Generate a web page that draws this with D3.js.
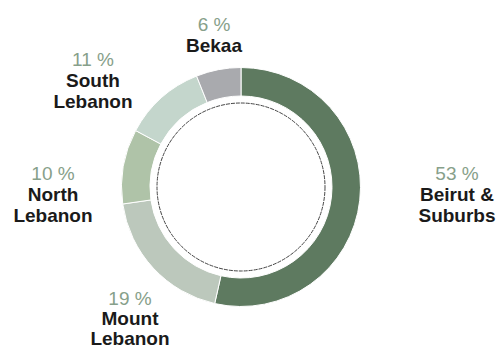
<!DOCTYPE html>
<html>
<head>
<meta charset="utf-8">
<script src="https://cdn.jsdelivr.net/npm/d3@7"></script>
<style>
  html, body { margin: 0; padding: 0; background: #fff; }
  svg { display: block; }
  .pct { font-family: "Liberation Sans", Arial, sans-serif; font-size: 19px; fill: #87a08a; }
  .name { font-family: "Liberation Sans", Arial, sans-serif; font-size: 19px; font-weight: bold; fill: #1a1a1a; }
</style>
</head>
<body>
<svg id="chart" width="499" height="351"></svg>
<script>
// Regional shares, clockwise from 12 o'clock
const regions = ["Beirut & Suburbs", "Mount Lebanon", "North Lebanon", "South Lebanon", "Bekaa"];
const shares = [53, 19, 10, 11, 6];
const colors = ["#5e7a60", "#bcc8bc", "#afc3a8", "#c4d6cc", "#a9aaae"];
// Label lines for each region
const nameLines = [["Beirut &", "Suburbs"], ["Mount", "Lebanon"], ["North", "Lebanon"], ["South", "Lebanon"], ["Bekaa"]];

const svg = d3.select("#chart");
const cx = 241, cy = 187;
const outerR = 119.5, innerR = 91, guideR = 84;

const g = svg.append("g").attr("transform", `translate(${cx},${cy})`);

const pie = d3.pie().sort(null).value(d => d.v);
const data = pie(shares.map((v, i) => ({ v, i })));
const arc = d3.arc().innerRadius(innerR).outerRadius(outerR);

g.selectAll("path.slice")
  .data(data)
  .join("path")
  .attr("class", "slice")
  .attr("d", arc)
  .attr("fill", d => colors[d.data.i])
  .attr("stroke", "#fff")
  .attr("stroke-width", 1);

// thin inner guide circle
g.append("circle")
  .attr("r", guideR)
  .attr("fill", "none")
  .attr("stroke", "#444")
  .attr("stroke-width", 1)
  .attr("stroke-dasharray", "4,1");

// label anchor points (centre x, baseline of the percentage line)
const labelPos = [
  { x: 457, y: 180 },
  { x: 130, y: 305 },
  { x: 53, y: 180 },
  { x: 93, y: 66 },
  { x: 214, y: 31 }
];
const lineGap = 21;

const labels = svg.selectAll("g.label")
  .data(data)
  .join("g")
  .attr("class", "label")
  .attr("transform", d => `translate(${labelPos[d.data.i].x},${labelPos[d.data.i].y})`);

labels.append("text")
  .attr("class", "pct")
  .attr("text-anchor", "middle")
  .text(d => `${d.data.v} %`);

labels.each(function (d) {
  const sel = d3.select(this);
  nameLines[d.data.i].forEach((line, k) => {
    sel.append("text")
      .attr("class", "name")
      .attr("text-anchor", "middle")
      .attr("y", (lineGap - (d.data.i === 1 ? 1 : 0)) * (k + 1))
      .text(line);
  });
});
</script>
</body>
</html>
